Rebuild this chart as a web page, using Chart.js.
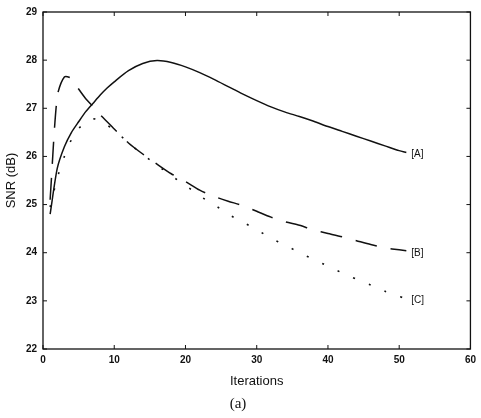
<!DOCTYPE html>
<html>
<head>
<meta charset="utf-8">
<script src="https://cdn.jsdelivr.net/npm/chart.js@4/dist/chart.umd.min.js"></script>
<style>
  html, body { margin: 0; padding: 0; background: #fff; }
  #wrap { width: 481px; height: 418px; }
</style>
</head>
<body>
<div id="wrap"><canvas id="chartSnr"></canvas></div>
<script>
// iteraciones comunes para las tres curvas
const iters = [1, 2, 3, 4, 5, 6, 7, 8, 9, 10, 12, 14, 16, 18, 20, 22, 24, 26, 28, 30, 32, 34, 36, 38, 40, 42, 44, 46, 48, 50, 51];

const snrA = [24.8, 25.75, 26.2, 26.5, 26.72, 26.93, 27.1, 27.27, 27.42, 27.55, 27.78, 27.93, 27.99, 27.95, 27.86, 27.74, 27.6, 27.45, 27.3, 27.16, 27.03, 26.92, 26.83, 26.73, 26.62, 26.52, 26.42, 26.32, 26.22, 26.12, 26.08];
const snrB = [25.1, 27.25, 27.65, 27.62, 27.4, 27.2, 27.04, 26.87, 26.72, 26.57, 26.28, 26.05, 25.84, 25.64, 25.48, 25.3, 25.17, 25.07, 24.98, 24.86, 24.74, 24.64, 24.57, 24.47, 24.4, 24.33, 24.25, 24.17, 24.1, 24.06, 24.04];
const snrC = [24.95, 25.55, 26.0, 26.35, 26.58, 26.7, 26.78, 26.75, 26.65, 26.55, 26.28, 26.04, 25.82, 25.6, 25.4, 25.18, 25.0, 24.8, 24.64, 24.48, 24.3, 24.16, 24.0, 23.86, 23.72, 23.58, 23.45, 23.33, 23.2, 23.09, 23.05];

const seriesLabels = ['[A]', '[B]', '[C]'];
const xTicks = [0, 10, 20, 30, 40, 50, 60];
const yTicks = [22, 23, 24, 25, 26, 27, 28, 29];

const toPts = vals => iters.map((it, i) => ({ x: it, y: vals[i] }));

// caja con marcas hacia dentro, etiquetas [A] [B] [C] y "(a)"
const boxPlugin = {
   id: 'boxPlugin',
   afterDraw(chart) {
      const { ctx, chartArea: ca, scales } = chart;
      ctx.save();
      ctx.strokeStyle = '#111';
      ctx.lineWidth = 1.3;
      ctx.strokeRect(ca.left, ca.top, ca.right - ca.left, ca.bottom - ca.top);
      ctx.lineWidth = 1;
      ctx.beginPath();
      xTicks.forEach(v => {
         const px = scales.x.getPixelForValue(v);
         ctx.moveTo(px, ca.bottom); ctx.lineTo(px, ca.bottom - 4);
         ctx.moveTo(px, ca.top); ctx.lineTo(px, ca.top + 4);
      });
      yTicks.forEach(v => {
         const py = scales.y.getPixelForValue(v);
         ctx.moveTo(ca.left, py); ctx.lineTo(ca.left + 4, py);
         ctx.moveTo(ca.right, py); ctx.lineTo(ca.right - 4, py);
      });
      ctx.stroke();

      ctx.fillStyle = '#111';
      ctx.font = '10px "Liberation Sans", Arial, sans-serif';
      ctx.textBaseline = 'middle';
      chart.data.datasets.forEach((ds, i) => {
         const last = ds.data[ds.data.length - 1];
         const px = scales.x.getPixelForValue(last.x);
         const py = scales.y.getPixelForValue(last.y);
         ctx.fillText(seriesLabels[i], px + 5, py + 2);
      });

      ctx.font = '15px "Liberation Serif", "Times New Roman", serif';
      ctx.textAlign = 'center';
      ctx.textBaseline = 'alphabetic';
      ctx.fillText('(a)', 238, 408);
      ctx.restore();
   }
};

const ctx = document.getElementById('chartSnr').getContext('2d');
new Chart(ctx, {
   type: 'line',
   data: {
      datasets: [
         {
            label: '[A]',
            data: toPts(snrA),
            borderColor: '#111',
            borderWidth: 1.5,
            pointRadius: 0,
            fill: false,
            tension: 0.25
         },
         {
            label: '[B]',
            data: toPts(snrB),
            borderColor: '#111',
            borderWidth: 1.5,
            borderDash: [22, 14],
            pointRadius: 0,
            fill: false,
            tension: 0.25
         },
         {
            label: '[C]',
            data: toPts(snrC),
            borderColor: '#111',
            borderWidth: 1.6,
            borderDash: [2, 15],
            pointRadius: 0,
            fill: false,
            tension: 0.25
         }
      ]
   },
   options: {
      responsive: true,
      maintainAspectRatio: false,
      animation: false,
      layout: { padding: { left: 0, right: 6, top: 9, bottom: 29 } },
      plugins: {
         legend: { display: false },
         tooltip: { enabled: false }
      },
      scales: {
         x: {
            type: 'linear',
            min: 0,
            max: 60,
            afterBuildTicks: s => { s.ticks = xTicks.map(v => ({ value: v })); },
            afterFit: s => { s.height = 40; },
            grid: { display: false, drawTicks: false },
            border: { display: false },
            ticks: {
               color: '#111',
               padding: 5,
               maxRotation: 0,
               font: { family: '"Liberation Sans", Arial, sans-serif', size: 10, weight: 'bold' }
            },
            title: {
               display: true,
               text: 'Iterations',
               color: '#111',
               padding: { top: 2, bottom: 0 },
               font: { family: '"Liberation Sans", Arial, sans-serif', size: 13 }
            }
         },
         y: {
            min: 22,
            max: 29,
            afterBuildTicks: s => { s.ticks = yTicks.map(v => ({ value: v })); },
            afterFit: s => { s.width = 43; },
            grid: { display: false, drawTicks: false },
            border: { display: false },
            ticks: {
               color: '#111',
               padding: 6,
               font: { family: '"Liberation Sans", Arial, sans-serif', size: 10, weight: 'bold' }
            },
            title: {
               display: true,
               text: 'SNR (dB)',
               color: '#111',
               padding: { top: 4, bottom: 0 },
               font: { family: '"Liberation Sans", Arial, sans-serif', size: 13 }
            }
         }
      }
   },
   plugins: [boxPlugin]
});
</script>
</body>
</html>
